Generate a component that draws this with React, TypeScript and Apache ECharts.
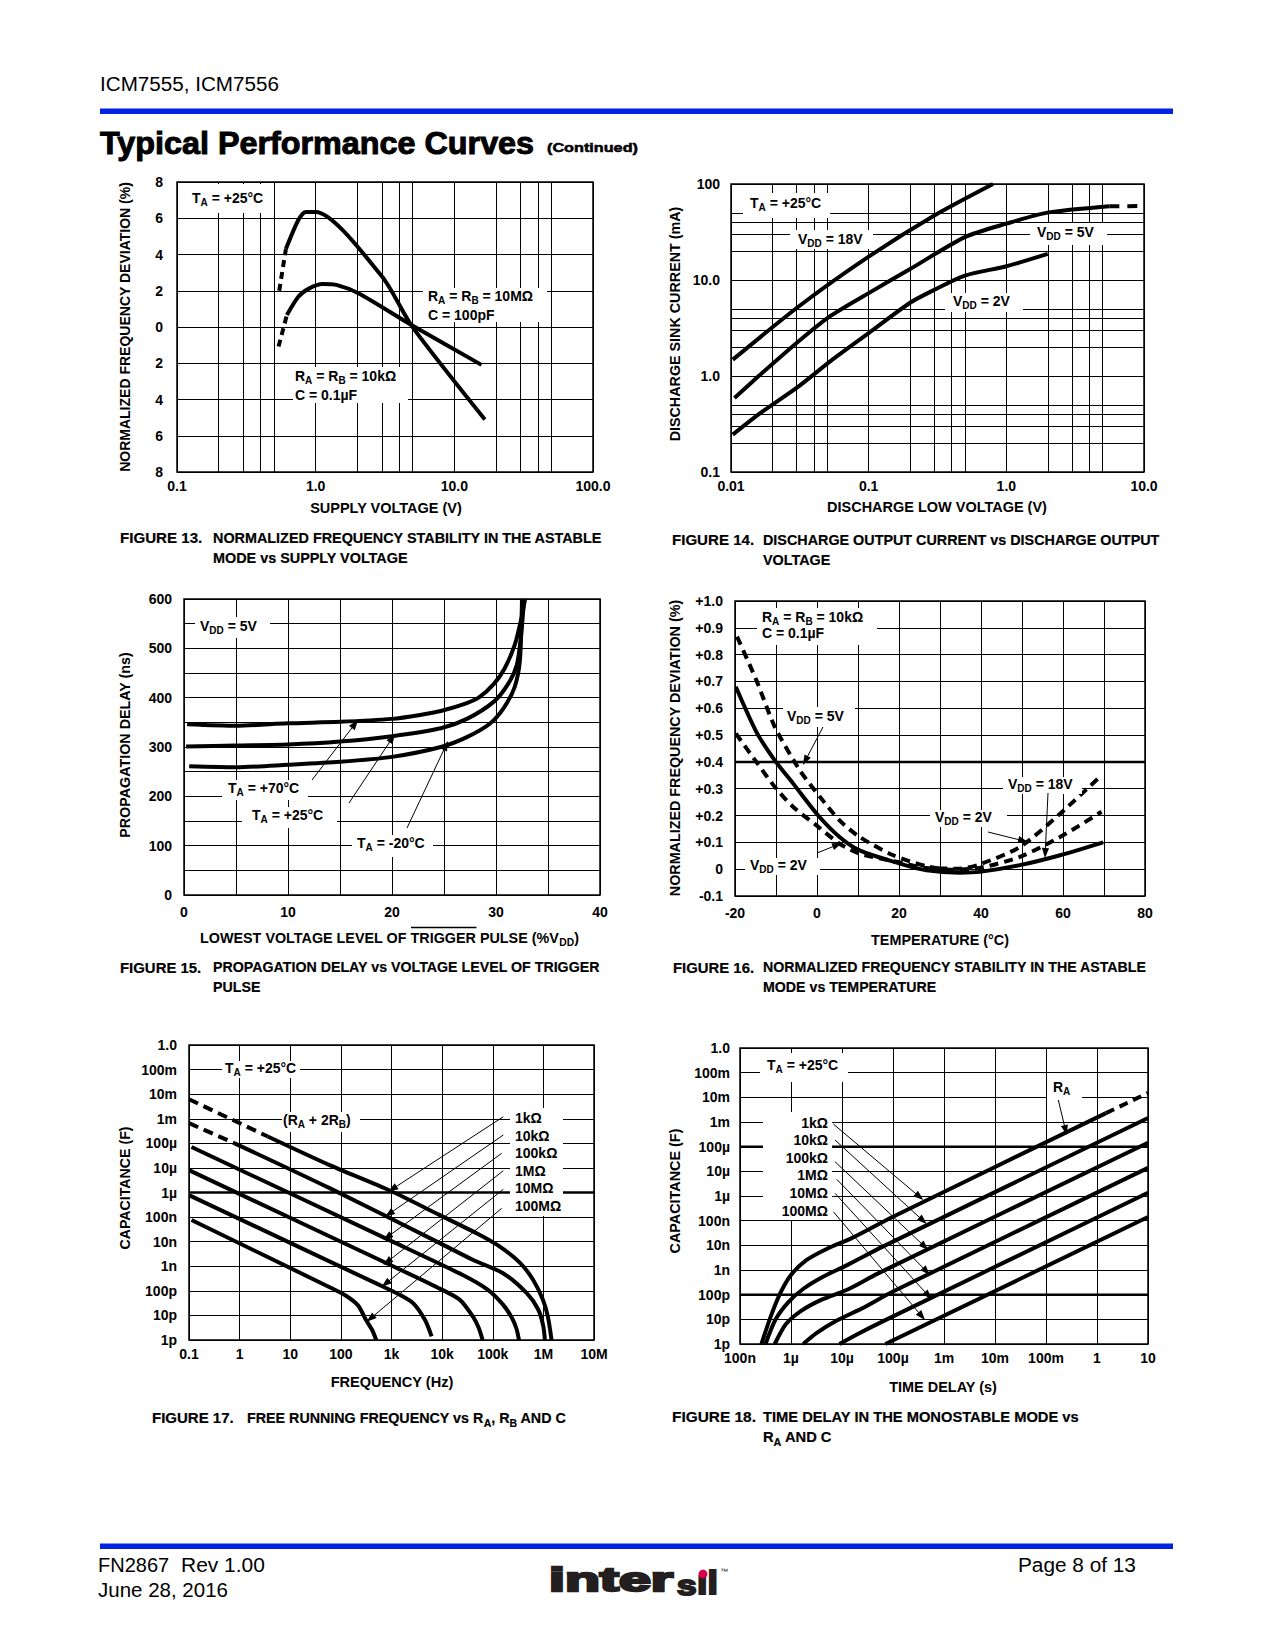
import React, { useEffect, useRef } from 'react';
import * as echarts from 'echarts';

const FONT = '"Liberation Sans", Arial, Helvetica, sans-serif';

/* ---------------- tick labels ---------------- */
const F13_X_TICKS = ['0.1', '1.0', '10.0', '100.0'];
const F14_X_TICKS = ['0.01', '0.1', '1.0', '10.0'];
const F14_Y_TICKS = ['0.1', '1.0', '10.0', '100'];
const FREQ_TICKS = ['0.1', '1', '10', '100', '1k', '10k', '100k', '1M', '10M'];
const TIME_TICKS = ['100n', '1µ', '10µ', '100µ', '1m', '10m', '100m', '1', '10'];
const CAP_TICKS = ['1p', '10p', '100p', '1n', '10n', '100n', '1µ', '10µ', '100µ', '1m', '10m', '100m', '1.0'];

/* minor grid lines (log charts) */
const F13_MINOR_X = [0.2, 0.3, 0.4, 0.5, 2, 3, 4, 5, 20, 30, 40, 50];
const F14_MINOR_X = [0.02, 0.03, 0.04, 0.05, 0.2, 0.3, 0.4, 0.5, 2, 3, 4, 5];
const F14_MINOR_Y = [0.2, 0.3, 0.4, 0.5, 2, 3, 4, 5, 20, 30, 40, 50];
/* emphasised (thick) grid lines */
const F16_THICK_Y = [0.4];
const F17_THICK_Y = [1e-6];
const F18_THICK_Y = [1e-4, 1e-10];

/* ---------------- FIGURE 13 : deviation (%) vs supply voltage (V) ---------------- */
const F13_UPPER_DASH = [[0.546, 2.0], [0.61, 4.3]];
const F13_UPPER = [[0.61, 4.3], [0.75, 5.9], [0.85, 6.35], [1.0, 6.35], [3.0, 2.8], [4.94, 0.05], [16.6, -5.1]];
const F13_LOWER_DASH = [[0.54, -1.08], [0.62, 0.66]];
const F13_LOWER = [[0.62, 0.66], [0.75, 1.67], [0.9, 2.13], [1.12, 2.37], [1.43, 2.31], [2.05, 1.85], [4.94, 0.1], [15.7, -2.09]];

/* ---------------- FIGURE 14 : sink current (mA) vs discharge low voltage (V) ---------------- */
const F14_18V = [[0.0103, 1.48], [0.031, 5.3], [0.1, 17.5], [0.3, 47], [0.8, 100]];
const F14_5V = [[0.0106, 0.59], [0.0163, 1.03], [0.031, 2.3], [0.0525, 4.2], [0.1, 7.3], [0.2, 13], [0.5, 28], [1.0, 38.6], [1.95, 50], [5.6, 58.5]];
const F14_5V_DASH = [[5.6, 58.5], [10, 59]];
const F14_2V = [[0.0103, 0.245], [0.0163, 0.41], [0.031, 0.78], [0.0525, 1.42], [0.1, 2.8], [0.2, 5.8], [0.3, 7.9], [0.5, 11.1], [1.0, 13.9], [2.0, 18.7]];

/* ---------------- FIGURE 15 : propagation delay (ns) vs trigger level (%VDD) ---------------- */
const F15_P70 = [[0.3, 346], [5, 343], [10, 348], [15, 351], [20, 357], [22.7, 365], [24.7, 373], [27.2, 389], [28.4, 401], [29.8, 428], [30.8, 458], [31.8, 507], [32.4, 557], [32.8, 600]];
const F15_P25 = [[0.2, 301], [5, 303], [10, 305], [15, 311], [20, 322], [24.7, 338], [27.2, 357], [29.8, 392], [31.2, 429], [32.0, 466], [32.4, 524], [32.7, 600]];
const F15_M20 = [[0.5, 261], [5, 259], [10, 264], [15, 270], [20, 280], [24.7, 300], [27.2, 320], [29.4, 347], [30.8, 381], [31.8, 422], [32.3, 476], [32.5, 600]];

/* ---------------- FIGURE 16 : deviation (%) vs temperature (°C) ---------------- */
const F16_SOLID = [[-19.8, 0.68], [-14.8, 0.512], [-10.3, 0.406], [-5.8, 0.319], [0.3, 0.2], [5.5, 0.12], [10.4, 0.07], [20.2, 0.021], [26.7, -0.004], [34.8, -0.013], [39.7, -0.01], [49.5, 0.015], [59.3, 0.052], [69.8, 0.1]];
const F16_5V = [[-19.5, 0.867], [-14.8, 0.705], [-10.3, 0.531], [-4.2, 0.369], [0.7, 0.27], [5.5, 0.182], [10.4, 0.12], [18.6, 0.052], [26.7, 0.011], [33.2, -0.002], [39.7, 0.005], [49.5, 0.046], [59.3, 0.12], [69.4, 0.214]];
const F16_2V = [[-19.8, 0.506], [-14.8, 0.4], [-10.3, 0.307], [-5.8, 0.232], [0.3, 0.158], [5.5, 0.095], [10.4, 0.058], [20.2, 0.025], [26.7, 0.004], [34.8, 0.002], [39.7, 0.018], [49.5, 0.083], [59.3, 0.207], [69.4, 0.35]];

/* ---------------- FIGURE 17 : capacitance (F) vs frequency (Hz) ---------------- */
const F17_1K_DASH = [[0.1, 6.2e-3], [3.6, 1.9e-4]];
const F17_1K = [[3.6, 1.9e-4], [60, 1.3e-5], [925, 1.2e-6], [9000, 1.2e-7], [48000, 2.2e-8], [138000, 6.3e-9], [350000, 1.35e-9], [630000, 2.75e-10], [980000, 4.3e-11], [1.23e6, 8.7e-12], [1.45e6, 1e-12]];
const F17_10K_DASH = [[0.1, 6.6e-4], [0.8, 1.0e-4]];
const F17_10K = [[0.8, 1.0e-4], [60, 1.5e-6], [9000, 8.7e-9], [41000, 1.8e-9], [160000, 5.2e-10], [470000, 8e-11], [800000, 1.66e-11], [1.0e6, 3.5e-12], [1.07e6, 1e-12]];
const F17_100K = [[0.112, 7.1e-5], [1000, 1.05e-8], [25000, 4.5e-10], [79000, 1.12e-10], [158000, 2.8e-11], [240000, 7.9e-12], [295000, 2.8e-12], [330000, 1e-12]];
const F17_1M = [[0.102, 7.9e-6], [1000, 1.07e-9], [7900, 1.4e-10], [22400, 4.3e-11], [40700, 8.9e-12], [52500, 3.2e-12], [63000, 1e-12]];
const F17_10M = [[0.102, 7.6e-7], [590, 1.7e-10], [1580, 6.3e-11], [2700, 3.1e-11], [4600, 6.5e-12], [6200, 1.4e-12]];
const F17_100M = [[0.112, 7.6e-8], [60, 1.4e-10], [126, 6.3e-11], [220, 2.5e-11], [316, 6.3e-12], [417, 2.5e-12], [500, 1e-12]];

/* ---------------- FIGURE 18 : capacitance (F) vs time delay (s) ---------------- */
const F18_1K = [[2.63e-7, 1e-12], [3.98e-7, 1.26e-11], [6.3e-7, 1.26e-10], [1e-6, 6.3e-10], [2e-6, 2.5e-9], [5e-6, 7.1e-9], [1.58e-5, 2e-8], [1e-4, 1.45e-7], [1.5, 2.3e-3]];
const F18_1K_DASH = [[1.5, 2.3e-3], [10, 1.5e-2]];
const F18_10K = [[3.16e-7, 1e-12], [5e-7, 1e-11], [8.9e-7, 5e-11], [1.78e-6, 1.78e-10], [4e-6, 5e-10], [1.26e-5, 1.58e-9], [6.3e-5, 8.9e-9], [10, 1.45e-3]];
const F18_100K = [[4.8e-7, 1e-12], [7.9e-7, 6.3e-12], [1.58e-6, 2.2e-11], [4e-6, 6.3e-11], [1.26e-5, 1.58e-10], [5e-5, 7.1e-10], [10, 1.45e-4]];
const F18_1M = [[1.74e-6, 1e-12], [3.2e-6, 2.8e-12], [7.9e-6, 8.9e-12], [2.5e-5, 2.8e-11], [1e-4, 1.35e-10], [10, 1.38e-5]];
const F18_10M = [[8.9e-6, 1e-12], [2e-5, 2.5e-12], [6.3e-5, 8.3e-12], [10, 1.35e-6]];
const F18_100M = [[7.1e-5, 1e-12], [10, 1.4e-7]];

/* ---------------- helpers ---------------- */
const LBL = { color: '#000', fontFamily: FONT, fontWeight: 'bold', fontSize: 14 };
const AX_COMMON = {
  axisLine: { show: false },
  axisTick: { show: false },
  splitLine: { show: true, lineStyle: { color: '#000', width: 1 } },
};

function logAxis(gi: number, min: number, max: number, ticks: string[], margin: number, forceDecade = false) {
  const lo = Math.log10(min);
  const ax: any = {
    type: 'log', logBase: 10, gridIndex: gi, min, max,
    splitNumber: Math.round(Math.log10(max) - lo),
    ...AX_COMMON,
    axisLabel: { ...LBL, margin, formatter: (v: number) => ticks[Math.round(Math.log10(v) - lo)] ?? '' },
  };
  if (forceDecade) ax.interval = 1;
  return ax;
}
function valAxis(gi: number, min: number, max: number, interval: number, margin: number, fmt: (v: number) => string) {
  return { type: 'value', gridIndex: gi, min, max, interval, ...AX_COMMON, axisLabel: { ...LBL, margin, formatter: fmt } };
}
const mk = (items: any[]) => ({
  silent: true, symbol: ['none', 'none'], label: { show: false }, emphasis: { disabled: true }, precision: 20,
  lineStyle: { color: '#000', width: 1, type: 'solid' }, data: items,
});
function S(i: number, data: number[][], o: any = {}) {
  const s: any = {
    type: 'line', xAxisIndex: i, yAxisIndex: i, data, symbol: 'none', showSymbol: false,
    smooth: o.smooth ?? 0.25, silent: true, z: o.z ?? 3, clip: true,
    lineStyle: { color: '#000', width: o.width ?? 4, type: o.dash ?? 'solid', cap: 'butt', join: 'round' },
    emphasis: { disabled: true },
  };
  if (o.mark) s.markLine = mk(o.mark);
  return s;
}
// a thick horizontal reference grid line spanning an axis range
const hline = (i: number, y: number, x0: number, x1: number) =>
  S(i, [[x0, y], [x1, y]], { width: 2.5, smooth: false, z: 2 });

let _ctx: CanvasRenderingContext2D | null = null;
const plain = (s: string) => s.replace(/\{s\|([^}]*)\}/g, '$1');
function mw(s: string, size: number, weight: string) {
  if (!_ctx) _ctx = document.createElement('canvas').getContext('2d');
  _ctx!.font = `${weight} ${size}px ${FONT}`;
  return _ctx!.measureText(plain(s)).width;
}
function fitS(s: string, size: number, w: number, weight = 'bold') {
  return w / mw(s, size, weight);
}
function txt(x: number, y: number, text: string, o: any = {}) {
  const size = o.size ?? 14;
  const weight = o.weight ?? 'bold';
  const color = o.color ?? '#000';
  const sx = o.w ? fitS(text, size, o.w, weight) : (o.sx ?? 1);
  const align = o.align ?? 'left';
  const style: any = {
    text, fill: color, fontSize: size, fontWeight: weight, fontFamily: FONT,
    align, verticalAlign: 'middle', textAlign: align, textVerticalAlign: 'middle',
    rich: {
      s: {
        fontSize: Math.round(size * 0.72), fontWeight: weight, fontFamily: FONT, fill: color,
        lineHeight: Math.round(size * 0.75), padding: [Math.round(size * 0.65), 0, 0, 0],
      },
    },
  };
  if (o.stroke) { style.stroke = color; style.lineWidth = o.stroke; }
  return { type: 'text', x, y, z: 60, silent: true, scaleX: sx, scaleY: 1, rotation: o.rot ?? 0, style };
}
const box = (x1: number, y1: number, x2: number, y2: number) => ({
  type: 'rect', z: 50, silent: true, shape: { x: x1, y: y1, width: x2 - x1, height: y2 - y1 }, style: { fill: '#fff' },
});
function arrow(a: number[]) {
  const [x1, y1, x2, y2] = a;
  const head = 10, hw = 3.6;
  const dx = x2 - x1, dy = y2 - y1, L = Math.hypot(dx, dy), ux = dx / L, uy = dy / L;
  const bx = x2 - ux * head, by = y2 - uy * head;
  return [
    { type: 'line', z: 62, silent: true, shape: { x1, y1, x2: bx + ux * 2, y2: by + uy * 2 }, style: { stroke: '#000', lineWidth: 1 } },
    { type: 'polygon', z: 62, silent: true, shape: { points: [[x2, y2], [bx - uy * hw, by + ux * hw], [bx + uy * hw, by - ux * hw]] }, style: { fill: '#000' } },
  ];
}

function caption(yy: number, num: string, x0: number, indent: number, right: number, line1: string, line2?: string) {
  const sx = fitS(line1, 15, right - indent);
  const out: any[] = [txt(x0, yy, num, { size: 15, sx: sx * 1.05, stroke: 0.2 }), txt(indent, yy, line1, { size: 15, sx, stroke: 0.2 })];
  if (line2) out.push(txt(indent, yy + 20, line2, { size: 15, sx, stroke: 0.2 }));
  return out;
}

function buildOption() {
  const grids = [
    { left: 177, top: 182, width: 416, height: 290 },
    { left: 731, top: 184, width: 413, height: 288 },
    { left: 184, top: 599, width: 416, height: 296 },
    { left: 735, top: 601, width: 410, height: 295 },
    { left: 189, top: 1045, width: 405, height: 295 },
    { left: 740, top: 1048, width: 408, height: 296 },
  ].map((g) => ({ ...g, show: true, borderColor: '#000', borderWidth: 1.5, backgroundColor: 'rgba(0,0,0,0)', containLabel: false, outerBoundsMode: 'none' }));

  const xAxis = [
    logAxis(0, 0.1, 100, F13_X_TICKS, 7),
    logAxis(1, 0.01, 10, F14_X_TICKS, 7),
    valAxis(2, 0, 40, 5, 10, (v) => (v % 10 === 0 ? String(v) : '')),
    valAxis(3, -20, 80, 10, 10, (v) => (Math.round(v) % 20 === 0 ? String(Math.round(v)) : '')),
    logAxis(4, 0.1, 1e7, FREQ_TICKS, 7),
    logAxis(5, 1e-7, 10, TIME_TICKS, 7),
  ];
  const yAxis = [
    valAxis(0, -8, 8, 2, 14, (v) => String(Math.abs(Math.round(v)))),
    logAxis(1, 0.1, 100, F14_Y_TICKS, 11),
    valAxis(2, 0, 600, 50, 12, (v) => (v % 100 === 0 ? String(v) : '')),
    valAxis(3, -0.1, 1.0, 0.1, 12, (v) => (Math.abs(v) < 1e-9 ? '0' : v > 0 ? '+' + v.toFixed(1) : v.toFixed(1))),
    logAxis(4, 1e-12, 1, CAP_TICKS, 12, true),
    logAxis(5, 1e-12, 1, CAP_TICKS, 10, true),
  ];

  const series = [
    // fig 13
    S(0, F13_UPPER, { mark: F13_MINOR_X.map((v) => ({ xAxis: v })) }),
    S(0, F13_UPPER_DASH, { dash: [7, 5], smooth: false }),
    S(0, F13_LOWER),
    S(0, F13_LOWER_DASH, { dash: [7, 5], smooth: false }),
    // fig 14
    S(1, F14_18V, { mark: [...F14_MINOR_X.map((v) => ({ xAxis: v })), ...F14_MINOR_Y.map((v) => ({ yAxis: v }))] }),
    S(1, F14_5V),
    S(1, F14_5V_DASH, { dash: [10, 8], smooth: false }),
    S(1, F14_2V),
    // fig 15
    S(2, F15_P70),
    S(2, F15_P25),
    S(2, F15_M20),
    // fig 16
    ...F16_THICK_Y.map((y) => hline(3, y, -20, 80)),
    S(3, F16_SOLID),
    S(3, F16_5V, { dash: [9, 6] }),
    S(3, F16_2V, { dash: [9, 6] }),
    // fig 17
    ...F17_THICK_Y.map((y) => hline(4, y, 0.1, 1e7)),
    S(4, F17_1K),
    S(4, F17_1K_DASH, { dash: [10, 6], smooth: false }),
    S(4, F17_10K),
    S(4, F17_10K_DASH, { dash: [10, 6], smooth: false }),
    S(4, F17_100K),
    S(4, F17_1M),
    S(4, F17_10M),
    S(4, F17_100M),
    // fig 18
    ...F18_THICK_Y.map((y) => hline(5, y, 1e-7, 10)),
    S(5, F18_1K),
    S(5, F18_1K_DASH, { dash: [9, 6], smooth: false }),
    S(5, F18_10K),
    S(5, F18_100K),
    S(5, F18_1M),
    S(5, F18_10M),
    S(5, F18_100M),
  ];

  const ROT = Math.PI / 2;
  const g: any[] = [];
  // header / footer
  g.push(txt(100, 84, 'ICM7555, ICM7556', { size: 20, weight: 'normal', w: 179 }));
  g.push({ type: 'rect', z: 40, silent: true, shape: { x: 100, y: 108.5, width: 1073, height: 5.5 }, style: { fill: '#0023e1' } });
  g.push(txt(100, 143, 'Typical Performance Curves', { size: 32, w: 434, stroke: 1 }));
  g.push(txt(547, 148, '(Continued)', { size: 13, w: 91, stroke: 0.5 }));
  g.push({ type: 'rect', z: 40, silent: true, shape: { x: 100, y: 1543.5, width: 1073, height: 5.5 }, style: { fill: '#0023e1' } });
  g.push(txt(98, 1565, 'FN2867', { size: 20, weight: 'normal' }));
  g.push(txt(181, 1565, 'Rev 1.00', { size: 20, weight: 'normal', w: 84 }));
  g.push(txt(98, 1590, 'June 28, 2016', { size: 20, weight: 'normal', w: 130 }));
  g.push(txt(1018, 1565, 'Page 8 of 13', { size: 20, weight: 'normal', w: 118 }));
  // logo
  g.push(txt(549, 1579, 'inter', { size: 34, w: 124, color: '#231f20', stroke: 2.4 }));
  g.push(txt(677, 1586, 's', { size: 27, sx: 1.3, color: '#231f20', stroke: 2 }));
  g.push(txt(697, 1583, 'ıl', { size: 34, sx: 1.1, color: '#231f20', stroke: 2.2 }));
  g.push({ type: 'circle', z: 61, silent: true, shape: { cx: 703, cy: 1574, r: 4.4 }, style: { fill: '#d6004f' } });
  g.push(txt(720, 1571, '™', { size: 8, weight: 'normal', color: '#231f20' }));

  // captions
  g.push(...caption(538, 'FIGURE 13.', 120, 213, 603, 'NORMALIZED FREQUENCY STABILITY IN THE ASTABLE', 'MODE vs SUPPLY VOLTAGE'));
  g.push(...caption(540, 'FIGURE 14.', 672, 763, 1160, 'DISCHARGE OUTPUT CURRENT vs DISCHARGE OUTPUT', 'VOLTAGE'));
  g.push(...caption(967, 'FIGURE 15.', 120, 213, 600, 'PROPAGATION DELAY vs VOLTAGE LEVEL OF TRIGGER', 'PULSE'));
  g.push(...caption(967, 'FIGURE 16.', 673, 763, 1147, 'NORMALIZED FREQUENCY STABILITY IN THE ASTABLE', 'MODE vs TEMPERATURE'));
  g.push(...caption(1418, 'FIGURE 17.', 152, 247, 572, 'FREE RUNNING FREQUENCY vs R{s|A}, R{s|B} AND C'));
  g.push(...caption(1417, 'FIGURE 18.', 672, 763, 1079, 'TIME DELAY IN THE MONOSTABLE MODE vs', 'R{s|A} AND C'));

  // axis titles
  g.push(txt(386, 508, 'SUPPLY VOLTAGE (V)', { align: 'center', w: 152 }));
  g.push(txt(125, 327, 'NORMALIZED FREQUENCY DEVIATION (%)', { align: 'center', rot: ROT, w: 290 }));
  g.push(txt(937, 507, 'DISCHARGE LOW VOLTAGE (V)', { align: 'center', w: 220 }));
  g.push(txt(675, 324, 'DISCHARGE SINK CURRENT (mA)', { align: 'center', rot: ROT, w: 235 }));
  const t15 = 'LOWEST VOLTAGE LEVEL OF TRIGGER PULSE (%V{s|DD})';
  const sx15 = fitS(t15, 14, 385);
  g.push(txt(200, 938, t15, { sx: sx15 }));
  const ol0 = 200 + mw('LOWEST VOLTAGE LEVEL OF ', 14, 'bold') * sx15;
  const ol1 = ol0 + mw('TRIGGER', 14, 'bold') * sx15;
  g.push({ type: 'line', z: 60, silent: true, shape: { x1: ol0, y1: 927.5, x2: ol1, y2: 927.5 }, style: { stroke: '#000', lineWidth: 1.3 } });
  g.push(txt(125, 745, 'PROPAGATION DELAY (ns)', { align: 'center', rot: ROT, w: 186 }));
  g.push(txt(940, 940, 'TEMPERATURE (°C)', { align: 'center', w: 138 }));
  g.push(txt(675, 748, 'NORMALIZED FREQUENCY DEVIATION (%)', { align: 'center', rot: ROT, w: 297 }));
  g.push(txt(392, 1382, 'FREQUENCY (Hz)', { align: 'center', w: 123 }));
  g.push(txt(125, 1188, 'CAPACITANCE (F)', { align: 'center', rot: ROT, w: 123 }));
  g.push(txt(943, 1387, 'TIME DELAY (s)', { align: 'center', w: 108 }));
  g.push(txt(675, 1191, 'CAPACITANCE (F)', { align: 'center', rot: ROT, w: 125 }));

  // in-plot label boxes
  [
    [185, 184, 272, 213], [423, 288, 547, 322], [293, 367, 408, 403],
    [743, 193, 830, 218], [790, 230, 873, 249], [1030, 223, 1107, 245], [945, 293, 1023, 312],
    [195, 617, 270, 638], [222, 780, 308, 800], [242, 807, 337, 828], [352, 835, 433, 857],
    [757, 608, 877, 645], [783, 707, 855, 727], [1003, 777, 1082, 794], [930, 810, 1007, 827], [745, 858, 820, 875],
    [222, 1061, 300, 1078], [282, 1112, 360, 1132], [510, 1108, 563, 1216],
    [760, 1053, 848, 1082], [1047, 1080, 1082, 1098], [763, 1112, 832, 1220],
  ].forEach((b) => g.push(box(b[0], b[1], b[2], b[3])));

  // fig 13 labels
  g.push(txt(192, 198, 'T{s|A} = +25°C'));
  g.push(txt(428, 296, 'R{s|A} = R{s|B} = 10MΩ'));
  g.push(txt(428, 315, 'C = 100pF'));
  g.push(txt(295, 376, 'R{s|A} = R{s|B} = 10kΩ'));
  g.push(txt(295, 395, 'C = 0.1µF'));
  // fig 14 labels
  g.push(txt(750, 203, 'T{s|A} = +25°C'));
  g.push(txt(798, 239, 'V{s|DD} = 18V'));
  g.push(txt(1037, 232, 'V{s|DD} = 5V'));
  g.push(txt(953, 301, 'V{s|DD} = 2V'));
  // fig 15 labels
  g.push(txt(200, 626, 'V{s|DD} = 5V'));
  g.push(txt(228, 788, 'T{s|A} = +70°C'));
  g.push(txt(252, 815, 'T{s|A} = +25°C'));
  g.push(txt(357, 843, 'T{s|A} = -20°C'));
  // fig 16 labels
  g.push(txt(762, 617, 'R{s|A} = R{s|B} = 10kΩ'));
  g.push(txt(762, 633, 'C = 0.1µF'));
  g.push(txt(787, 716, 'V{s|DD} = 5V'));
  g.push(txt(1008, 784, 'V{s|DD} = 18V'));
  g.push(txt(935, 817, 'V{s|DD} = 2V'));
  g.push(txt(750, 865, 'V{s|DD} = 2V'));
  // fig 17 labels
  g.push(txt(225, 1068, 'T{s|A} = +25°C'));
  g.push(txt(283, 1120, '(R{s|A} + 2R{s|B})'));
  const RES = ['1kΩ', '10kΩ', '100kΩ', '1MΩ', '10MΩ', '100MΩ'];
  const Y17 = [1118, 1136, 1153, 1171, 1188, 1206];
  RES.forEach((r, i) => g.push(txt(515, Y17[i], r)));
  // fig 18 labels
  g.push(txt(767, 1065, 'T{s|A} = +25°C'));
  g.push(txt(1053, 1087, 'R{s|A}'));
  const Y18 = [1123, 1140, 1158, 1175, 1193, 1211];
  RES.forEach((r, i) => g.push(txt(828, Y18[i], r, { align: 'right' })));

  // arrows
  [
    [312, 780, 358, 720], [349, 803, 395, 734], [407, 828, 448, 741],
    [823, 727, 803, 765], [1048, 793, 1045, 858], [988, 832, 1028, 842], [817, 853, 842, 843],
    [503.3, 1116.7, 388.3, 1191.7], [503.3, 1135, 385, 1216.7], [501.7, 1153.3, 383.3, 1240],
    [503.3, 1170.7, 383.3, 1265], [503.3, 1189.3, 381.7, 1286.7], [501.7, 1208.3, 366.7, 1321.7],
    [833.3, 1124, 923.3, 1200], [835, 1140, 926.7, 1224], [835, 1161.7, 928.3, 1250],
    [836.7, 1179.3, 930, 1275], [835, 1193.3, 931.7, 1299.3], [833.3, 1211.7, 925, 1320],
    [1058.3, 1100, 1066.7, 1135],
  ].forEach((a) => g.push(...arrow(a)));

  return {
    animation: false,
    backgroundColor: '#fff',
    grid: grids,
    xAxis,
    yAxis,
    series,
    graphic: { elements: g },
  };
}

export default function App() {
  const ref = useRef<HTMLDivElement>(null);
  useEffect(() => {
    const chart = echarts.init(ref.current!, null, { renderer: 'svg' });
    chart.setOption(buildOption() as any);
    return () => chart.dispose();
  }, []);
  return (
    <div
      ref={ref}
      style={{ position: 'absolute', left: 0, top: 0, width: 1275, height: 1650, background: '#fff' }}
    />
  );
}
